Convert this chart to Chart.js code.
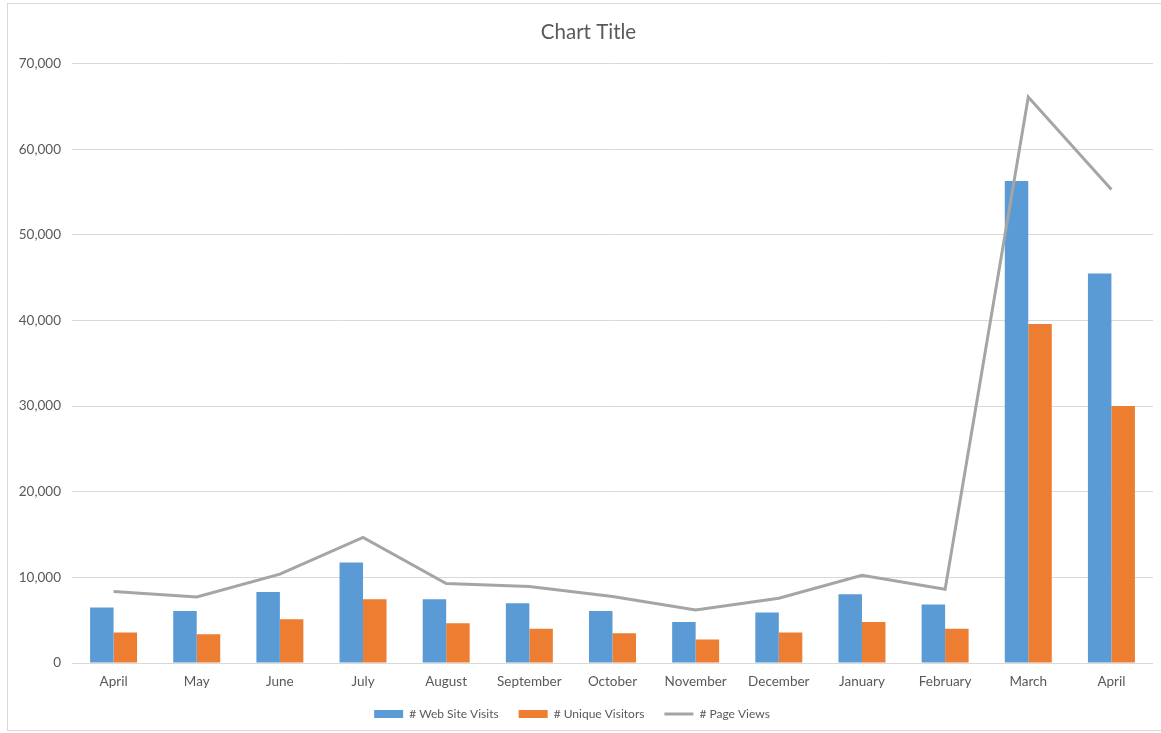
<!DOCTYPE html>
<html>
<head>
<meta charset="utf-8">
<script src="https://cdn.jsdelivr.net/npm/chart.js@4/dist/chart.umd.min.js"></script>
<style>
  html, body { margin: 0; padding: 0; background: #fff; overflow: hidden; }
  #wrap { position: absolute; left: 7px; top: 3px; width: 1162px; height: 726px; border: 1px solid #d9d9d9; overflow: hidden; }
</style>
</head>
<body>
<div id="wrap"><canvas id="myChart"></canvas></div>
<script>
const months = ["April", "May", "June", "July", "August", "September", "October", "November", "December", "January", "February", "March", "April"]
const siteVisits = [6470, 6080, 8300, 11730, 7450, 6980, 6080, 4800, 5890, 8030, 6820, 56300, 45500]
const uniqueVisitors = [3550, 3350, 5100, 7450, 4640, 4010, 3470, 2730, 3550, 4800, 4010, 39600, 30000]
const pageViews = [8340, 7720, 10370, 14660, 9280, 8930, 7760, 6200, 7560, 10250, 8620, 66100, 55300]

// move the title and legend to where the reference has them
const boxPlace = {
    id: 'boxPlace',
    afterLayout: function (chart) {
        const lg = chart.legend
        const h = lg.bottom - lg.top
        lg.top = 705 - h / 2
        lg.bottom = lg.top + h
        lg.left -= 8.5
        lg.right -= 8.5
        const tb = chart.titleBlock
        tb.left += 8
        tb.right += 8
    }
}

document.addEventListener('DOMContentLoaded', function () {
    const grey = '#595959'
    const data = {
        labels: months,
        datasets: [
            {
                type: 'line',
                label: '# Page Views',
                data: pageViews,
                borderColor: '#A5A5A5',
                backgroundColor: '#A5A5A5',
                borderWidth: 3,
                pointRadius: 0,
                pointStyle: 'line',
                tension: 0,
                order: 0
            },
            {
                label: '# Web Site Visits',
                data: siteVisits,
                backgroundColor: '#5B9BD5',
                pointStyle: 'rect',
                order: 1
            },
            {
                label: '# Unique Visitors',
                data: uniqueVisitors,
                backgroundColor: '#ED7D31',
                pointStyle: 'rect',
                order: 1
            }
        ]
    }
    const config = {
        type: 'bar',
        data: data,
        options: {
            responsive: false,
            animation: false,
            layout: { padding: { top: 10, right: 17, bottom: -5, left: 0 } },
            datasets: {
                bar: { barPercentage: 1, categoryPercentage: 0.565 }
            },
            scales: {
                x: {
                    grid: { display: false, drawTicks: false },
                    border: { display: false },
                    ticks: { color: grey, font: { family: 'Lato', size: 13.5 }, padding: 11, maxRotation: 0 },
                    afterFit: function (scale) { scale.height = 30 }
                },
                y: {
                    min: 0,
                    max: 70000,
                    ticks: {
                        stepSize: 10000,
                        color: grey,
                        font: { family: 'Lato', size: 13.5 },
                        padding: 11,
                        callback: function (v) { return v.toLocaleString('en-US') }
                    },
                    grid: { color: '#d9d9d9', drawTicks: false },
                    border: { display: false },
                    afterFit: function (scale) { scale.width = 64 }
                }
            },
            plugins: {
                title: {
                    display: true,
                    text: 'Chart Title',
                    color: grey,
                    font: { family: 'Lato', size: 20.5, weight: 'normal' },
                    padding: { top: 6, bottom: 19 }
                },
                legend: {
                    display: true,
                    position: 'bottom',
                    labels: {
                        color: grey,
                        font: { family: 'Lato', size: 12 },
                        usePointStyle: true,
                        pointStyleWidth: 29,
                        boxHeight: 8,
                        padding: 20,
                        sort: function (a, b) { return [1, 2, 0].indexOf(a.datasetIndex) - [1, 2, 0].indexOf(b.datasetIndex) }
                    }
                },
                tooltip: { enabled: false }
            }
        },
        plugins: [boxPlace]
    }
    const canvas = document.getElementById('myChart')
    canvas.width = 1162
    canvas.height = 726
    var myChart = new Chart(canvas, config)
})
</script>
</body>
</html>
